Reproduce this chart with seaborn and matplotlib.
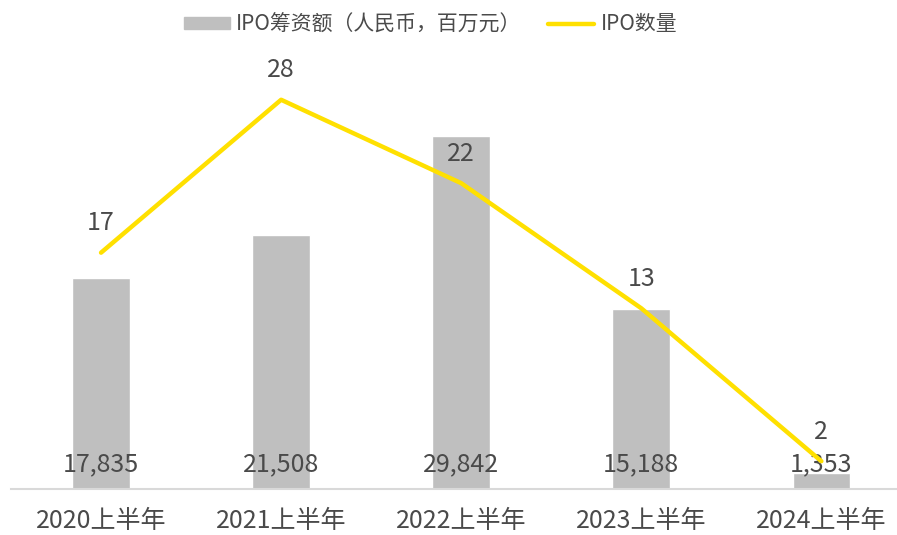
import numpy as np
import pandas as pd
import matplotlib.pyplot as plt
import seaborn as sns
from matplotlib.patches import Patch
from matplotlib.lines import Line2D

# data
periods = ['2020上半年', '2021上半年', '2022上半年', '2023上半年', '2024上半年']
ipo_amount = [17835, 21508, 29842, 15188, 1353]   # 百万元
ipo_count = [17, 28, 22, 13, 2]

bar_color = '#BFBFBF'
line_color = '#FFE000'
text_color = '#4A4A4A'

sns.set_style('white')
plt.rcParams['font.family'] = ['Noto Sans CJK SC', 'DejaVu Sans']

df = pd.DataFrame({'period': periods, 'amount': ipo_amount, 'count': ipo_count})

fig = plt.figure(figsize=(8.97, 5.35), dpi=100)
ax = fig.add_axes([11 / 897, 46 / 535, 886 / 897, 429 / 535])

sns.barplot(data=df, x='period', y='amount', color=bar_color, width=0.32,
            saturation=1, ax=ax)
ax.set_ylim(0, 36264)
ax.set_xlim(-0.5, 4.42)

# 筹资额标签放在柱子底部
for i, v in enumerate(ipo_amount):
    ax.text(i, 1000, f'{v:,}', ha='center', va='bottom', fontsize=18,
            color=text_color)

ax2 = ax.twinx()
sns.lineplot(x=np.arange(len(periods)), y=ipo_count, color=line_color,
             linewidth=3.2, ax=ax2)
ax2.set_ylim(0, 30.86)
for i, v in enumerate(ipo_count):
    ax2.annotate(str(v), (i, v), xytext=(0, 12), textcoords='offset points',
                 ha='center', va='bottom', fontsize=18, color=text_color)

for a in (ax, ax2):
    for s in a.spines.values():
        s.set_visible(False)
    a.set_yticks([])
    a.set_ylabel('')
ax.spines['bottom'].set_visible(True)
ax.spines['bottom'].set_color('#D9D9D9')
ax.spines['bottom'].set_linewidth(1.5)
ax.set_xlabel('')
ax.tick_params(axis='x', length=0, pad=14, labelsize=18, labelcolor=text_color)

handles = [Patch(color=bar_color), Line2D([], [], color=line_color, linewidth=3.2)]
labels = ['IPO筹资额（人民币，百万元）', 'IPO数量']
fig.legend(handles, labels, loc='upper center', bbox_to_anchor=(0.48, 1.01),
           ncol=2, frameon=False, fontsize=15, labelcolor=text_color,
           handlelength=2.2, handleheight=0.55, columnspacing=1.3, handletextpad=0.3)

fig.savefig('out.png', dpi=100)
